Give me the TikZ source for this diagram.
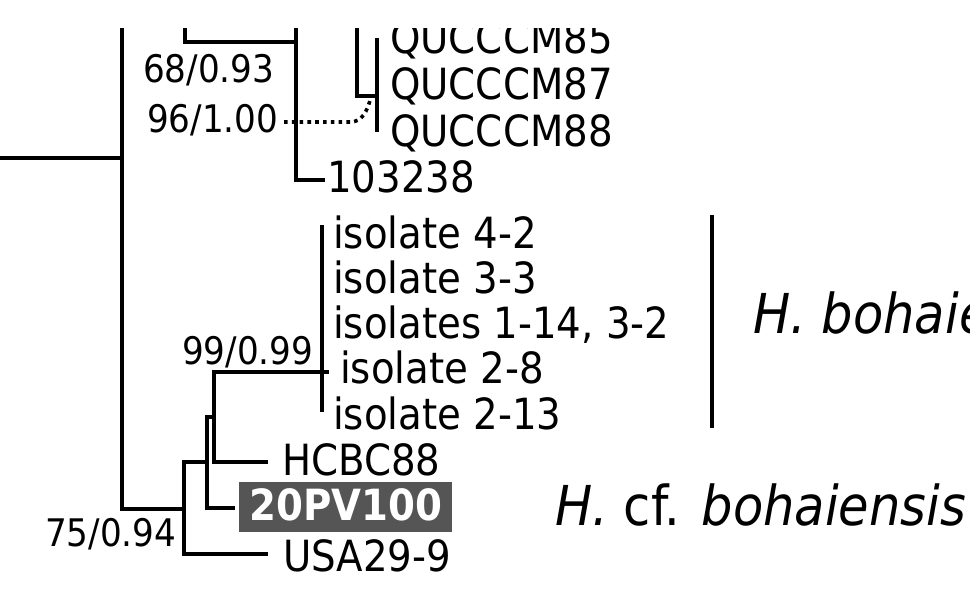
\documentclass[tikz,border=0pt]{standalone}
\usepackage{fontspec}
\setmainfont{DejaVu Sans}[FakeStretch=0.9]
\definecolor{boxgray}{RGB}{85,85,85}
\begin{document}
\begin{tikzpicture}[x=1pt,y=-1pt,
  br/.style={line width=3.3pt, line join=miter},
  dots/.style={line width=3.6pt, dash pattern=on 3.6pt off 4.2pt},
  leaf/.style={anchor=base west, inner sep=0pt, font=\fontsize{43}{45}\selectfont},
  supp/.style={anchor=base west, inner sep=0pt, font=\fontsize{38}{40}\selectfont},
  species/.style={anchor=base west, inner sep=0pt, font=\fontsize{55}{60}\selectfont}]
\useasboundingbox (0,0) rectangle (970,591);
\begin{scope}
\clip (0,29) rectangle (970,591);
% coordinates
\coordinate (stem) at (0,158);
\coordinate (rootV) at (122,158);
\coordinate (rootTop) at (122,0);
\coordinate (nB) at (184,509);
\coordinate (aTop) at (185,0);
\coordinate (a1) at (296,42);
\coordinate (bTop) at (296,0);
\coordinate (t103) at (325,180);
\coordinate (cTop) at (357,0);
\coordinate (c1) at (377,96);
\coordinate (q1) at (377,38);
\coordinate (q2) at (377,132);
\coordinate (cC) at (207,462);
\coordinate (tUSA) at (268,554);
\coordinate (cD) at (214,417);
\coordinate (tPV) at (235,508);
\coordinate (cE) at (322,372);
\coordinate (tHC) at (268,462);
\coordinate (e1) at (322,225);
\coordinate (e2) at (322,412);
\coordinate (tick) at (329,372);
\coordinate (bar1) at (712,215);
\coordinate (bar2) at (712,428);
\coordinate (dotA) at (284,122);
\coordinate (dotB) at (350,122);
\coordinate (dotC) at (371,97);
% branches
\draw[br] (stem) -- (rootV);
\draw[br] (rootTop) |- (nB);
\draw[br] (aTop) |- (a1);
\draw[br] (bTop) |- (t103);
\draw[br] (cTop) |- (c1);
\draw[br] (q1) -- (q2);
\draw[br] (cC) -| (184,554) -- (tUSA);
\draw[br] (cD) -| (207,508) -- (tPV);
\draw[br] (cE) -| (214,462) -- (tHC);
\draw[br] (e1) -- (e2);
\draw[br] (cE) -- (tick);
\draw[br] (bar1) -- (bar2);
\draw[dots] (dotA) -- (dotB) .. controls (362,122) and (367,112) .. (dotC);
% leaves
\node[leaf] (Q85) at (390,54) {QUCCCM85};
\node[leaf] (Q87) at (390,100) {QUCCCM87};
\node[leaf] (Q88) at (390,147) {QUCCCM88};
\node[leaf] (L103) at (327,193) {103238};
\node[leaf] (i42) at (333,248) {isolate 4-2};
\node[leaf] (i33) at (333,293) {isolate 3-3};
\node[leaf] (i114) at (333,338) {isolates 1-14, 3-2};
\node[leaf] (i28) at (340,383) {isolate 2-8};
\node[leaf] (i213) at (333,429) {isolate 2-13};
\node[leaf] (HC) at (282,475) {HCBC88};
\node[leaf, fill=boxgray, text=white, inner xsep=10pt, inner ysep=0pt, text height=38pt, text depth=12pt, font=\bfseries\fontsize{43}{45}\selectfont] (PV) at (239,520) {20PV100};
\node[leaf] (USA) at (283,571) {USA29-9};
% support values
\node[supp] (s68) at (143,83) {68/0.93};
\node[supp] (s96) at (147,133) {96/1.00};
\node[supp] (s99) at (182,364) {99/0.99};
\node[supp] (s75) at (45,546) {75/0.94};
% species
\node[species] (sp1) at (753,333) {\itshape H. bohaiensis};
\node[species] (sp2) at (555,525) {\itshape H.\ \upshape cf. \itshape bohaiensis};
\end{scope}
\end{tikzpicture}
\end{document}
